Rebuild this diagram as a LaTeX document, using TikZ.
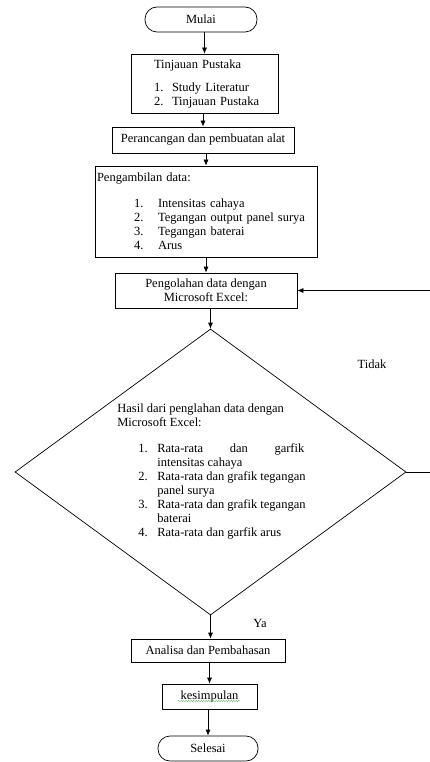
\documentclass[tikz,border=0pt]{standalone}
\usepackage{fontspec}
\setmainfont{Liberation Serif}
\usetikzlibrary{arrows.meta}
\usetikzlibrary{shapes.geometric}
\usetikzlibrary{decorations.pathmorphing}
\tikzset{proses/.style = {draw, rectangle, inner sep = 0, align = left}}
\tikzset{terminal/.style = {draw, rectangle, rounded corners = 12pt, inner sep = 0, minimum height = 25pt}}
\tikzset{panah/.style = {-{Latex[length = 6pt, width = 5pt]}}}
\newcommand{\nomor}[2]{\makebox[#1][l]{#2}}
\definecolor{mgreen}{rgb}{0.35, 0.7, 0.35}

\begin{document}
\begin{tikzpicture}[x = 1pt, y = -1pt, line width = 0.7pt, font = \fontsize{12.5}{14}\selectfont]
      \useasboundingbox (0, 0) rectangle (430, 762);

      \node [terminal, minimum width = 112pt] (mulai) at (201, 19.5) {Mulai};
      \node [proses, minimum height = 59pt, text width = 147pt] (tinjauan) at (204.5, 83.5)
        {\hspace*{23pt}Tinjauan Pustaka\\[9pt]
         \hspace*{23pt}\nomor{18pt}{1.}Study Literatur\\
         \hspace*{23pt}\nomor{18pt}{2.}Tinjauan Pustaka};
      \node [proses, minimum width = 182pt, minimum height = 26pt] (perancangan) at (203, 140)
        {Perancangan dan pembuatan alat};
      \node [proses, minimum height = 91pt, text width = 222pt] (pengambilan) at (206, 211.5)
        {\hspace*{2pt}Pengambilan data:\\[12pt]
         \hspace*{39pt}\nomor{24pt}{1.}Intensitas cahaya\\
         \hspace*{39pt}\nomor{24pt}{2.}Tegangan output panel surya\\
         \hspace*{39pt}\nomor{24pt}{3.}Tegangan baterai\\
         \hspace*{39pt}\nomor{24pt}{4.}Arus};
      \node [proses, align = center, minimum width = 182pt, minimum height = 35pt] (pengolahan) at (206, 290.5)
        {Pengolahan data dengan\\Microsoft Excel:};

      \node [draw, diamond, inner sep = 0, minimum width = 391pt, minimum height = 286pt] (hasil) at (210.5, 472) {};
      \node [anchor = north west, inner sep = 0, align = left] (hasilteks) at (117, 403)
        {Hasil dari penglahan data dengan\\
         Microsoft Excel:\\[12pt]
         \hspace*{21pt}\nomor{19pt}{1.}\makebox[147pt][s]{Rata-rata dan garfik}\\
         \hspace*{40pt}intensitas cahaya\\
         \hspace*{21pt}\nomor{19pt}{2.}Rata-rata dan grafik tegangan\\
         \hspace*{40pt}panel surya\\
         \hspace*{21pt}\nomor{19pt}{3.}Rata-rata dan grafik tegangan\\
         \hspace*{40pt}baterai\\
         \hspace*{21pt}\nomor{19pt}{4.}Rata-rata dan garfik arus};

      \node [proses, minimum width = 154pt, minimum height = 23pt] (analisa) at (208, 650.5) {Analisa dan Pembahasan};
      \node [proses, minimum width = 95pt, minimum height = 25pt] (kesimpulan) at (209.5, 696.5) {kesimpulan};
      \node [terminal, minimum width = 100pt] (selesai) at (208, 748.5) {Selesai};

      \node (tidak) at (372, 364) {Tidak};
      \node (ya) at (260, 623) {Ya};

      \foreach \a/\b in {mulai/tinjauan, tinjauan/perancangan, perancangan/pengambilan,
                         pengambilan/pengolahan, pengolahan/hasil, analisa/kesimpulan, kesimpulan/selesai}
        \draw [panah] (\b.north |- \a.south) -- (\b.north);
      \draw [panah] (hasil.south) -- (hasil.south |- analisa.north);

      % kembali ke pengolahan
      \coordinate (balik) at (440, 472);
      \draw [panah] (hasil.east) -- (balik) |- (pengolahan.east);

      \draw [mgreen, line width = 0.4pt, decorate, decoration = {snake, amplitude = 0.6pt, segment length = 2.5pt}]
        (178, 701) -- (240, 701);
\end{tikzpicture}
\end{document}
